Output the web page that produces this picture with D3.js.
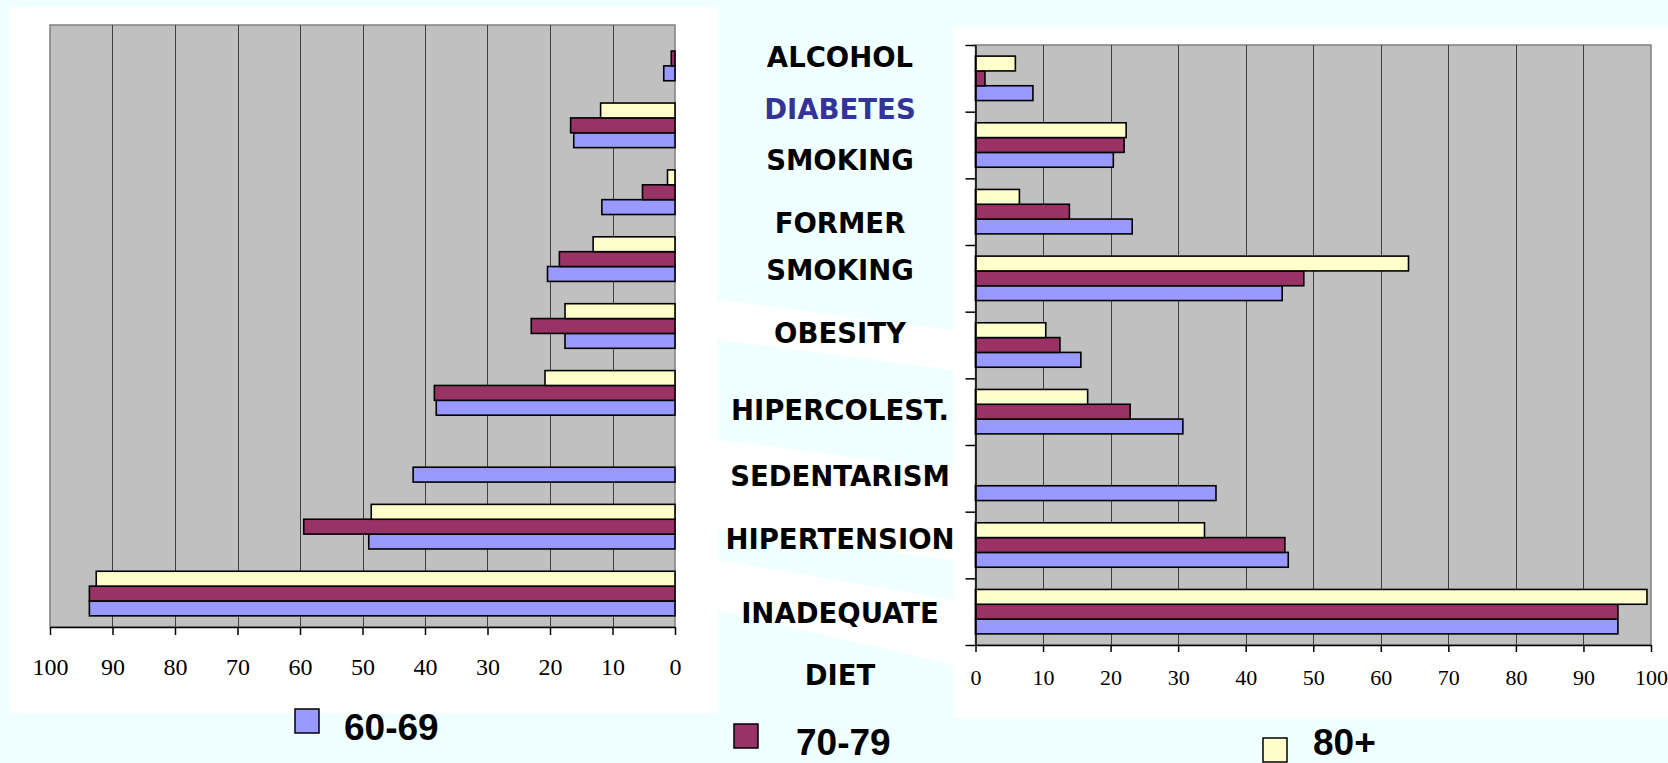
<!DOCTYPE html>
<html><head><meta charset="utf-8">
<script src="https://cdn.jsdelivr.net/npm/d3@7"></script>
<style>html,body{margin:0;padding:0;background:#F0FFFF;overflow:hidden}
.tick text{font-family:"Liberation Serif","Times New Roman",serif !important;}</style>
</head><body>
<svg id="c" width="1668" height="763"></svg>
<script>
// ---- data ----
const categories = ["ALCOHOL","DIABETES","SMOKING","FORMER SMOKING","OBESITY","HIPERCOLEST.","SEDENTARISM","HIPERTENSION","INADEQUATE DIET"];
const seriesNames = ["60-69","70-79","80+"];
// left (mirrored) chart
const left6069 = [1.8, 16.2, 11.7, 20.4, 17.6, 38.2, 41.9, 49.0, 93.7];
const left7079 = [0.6, 16.7, 5.2, 18.5, 23.0, 38.5, 0, 59.4, 93.7];
const left80   = [0, 11.9, 1.2, 13.1, 17.6, 20.8, 0, 48.6, 92.6];
// right chart
const right6069 = [8.5, 20.4, 23.2, 45.4, 15.6, 30.7, 35.6, 46.3, 95.1];
const right7079 = [1.4, 22.0, 13.9, 48.6, 12.5, 22.9, 0, 45.8, 95.1];
const right80   = [5.9, 22.3, 6.5, 64.1, 10.4, 16.6, 0, 33.9, 99.4];
const tickValues = [0,10,20,30,40,50,60,70,80,90,100];
// label text box lines (category label, split into lines)
const labelLines = [["ALCOHOL"],["DIABETES"],["SMOKING"],["FORMER","SMOKING"],["OBESITY"],["HIPERCOLEST."],["SEDENTARISM"],["HIPERTENSION"],["INADEQUATE","DIET"]];

// ---- styles / layout ----
const colors = {"60-69":"#9999FF","70-79":"#993366","80+":"#FFFFCC"};
const svg = d3.select("#c");

// background decoration (slide background)
svg.append("rect").attr("width",1668).attr("height",763).attr("fill","#F0FFFF");
svg.append("rect").attr("x",10).attr("y",7).attr("width",708).attr("height",706).attr("fill","#FFFFFF");
svg.append("rect").attr("x",953).attr("y",28).attr("width",715).attr("height",690).attr("fill","#FFFFFF");
const deco = [
  [[120,713],[718,713],[718,735],[700,763],[156,763]],
  [[718,300],[953,330],[953,370],[718,340]],
  [[718,440],[953,470],[953,560],[718,530]],
  [[718,560],[953,600],[953,665],[718,610]],
  [[718,713],[953,718],[953,763],[780,763]]
];
svg.selectAll("polygon.deco").data(deco).join("polygon")
  .attr("points", d => d.map(p => p.join(",")).join(" "))
  .attr("fill", (d,i) => i === 0 || i === 4 ? "#F0FFFF" : "#FFFFFF");

function drawChart(opts) {
  const {x0, x1, y0, y1, domain, data, tickLen, fontSize, labelDy, leftAxis} = opts;
  const x = d3.scaleLinear().domain(domain).range([x0, x1]);
  const y = d3.scaleBand().domain(categories).range([y0, y1]).padding(0);
  const yi = d3.scaleBand().domain(["80+","70-79","60-69"]).range([0, y.bandwidth()]).paddingInner(0).paddingOuter(0.75);
  const g = svg.append("g");
  g.append("rect").attr("x", Math.min(x0,x1)).attr("y", y0)
    .attr("width", Math.abs(x1-x0)).attr("height", y1-y0)
    .attr("fill","#C0C0C0").attr("stroke","#808080").attr("stroke-width",1.5);
  // gridlines
  g.selectAll("line.grid").data(tickValues.filter(v => v > 0 && v < 100)).join("line")
    .attr("x1", d => Math.round(x(d))+0.5).attr("x2", d => Math.round(x(d))+0.5)
    .attr("y1", y0).attr("y2", y1).attr("stroke","#404040").attr("stroke-width",1);
  // bars
  const rows = [];
  categories.forEach((c,i) => {
    seriesNames.forEach(s => rows.push({c, s, v: data[s][i]}));
  });
  g.selectAll("rect.bar").data(rows.filter(r => r.v > 0)).join("rect")
    .attr("x", d => Math.min(x(0), x(d.v)))
    .attr("y", d => y(d.c) + yi(d.s))
    .attr("width", d => Math.abs(x(d.v) - x(0)))
    .attr("height", yi.bandwidth())
    .attr("fill", d => colors[d.s]).attr("stroke","#000").attr("stroke-width",1.6);
  // x axis
  const ax = g.append("g").attr("transform",`translate(0,${y1})`)
    .call(d3.axisBottom(x).tickValues(tickValues).tickSize(tickLen).tickSizeOuter(0).tickPadding(0));
  ax.attr("font-family","Liberation Serif, serif").attr("font-size",fontSize);
  ax.select(".domain").attr("stroke","#000").attr("stroke-width",1.5);
  ax.selectAll(".tick line").attr("stroke","#000").attr("stroke-width",1.5);
  ax.selectAll(".tick text")
    .style("font-family","'Liberation Serif', serif").style("font-size",fontSize+"px")
    .attr("fill","#000").attr("dy",null).attr("y",labelDy);
  if (leftAxis) {
    const yb = d3.scaleLinear().domain([0, categories.length]).range([y0, y1]);
    const ay = g.append("g").attr("transform",`translate(${x0},0)`)
      .call(d3.axisLeft(yb).ticks(categories.length).tickFormat("").tickSize(10).tickSizeOuter(0));
    ay.select(".domain").attr("stroke","#000").attr("stroke-width",1.5);
    ay.selectAll(".tick line").attr("stroke","#000").attr("stroke-width",1.5);
  }
  return ax;
}

drawChart({x0:50, x1:675, y0:25, y1:627, domain:[100,0],
  data:{"60-69":left6069,"70-79":left7079,"80+":left80}, tickLen:8, fontSize:24, labelDy:48, leftAxis:false});
drawChart({x0:975.5, x1:1651, y0:45, y1:645, domain:[0,100],
  data:{"60-69":right6069,"70-79":right7079,"80+":right80}, tickLen:7, fontSize:22, labelDy:40, leftAxis:true});

// category labels text box (separate column, as in the slide)
const lineY = [57, 109, 160, 223, 270, 333, 410, 476, 539, 613, 675];
const flat = [];
labelLines.forEach((lines, ci) => lines.forEach(t => flat.push({t, ci})));
svg.selectAll("text.cat").data(flat).join("text")
  .attr("x", 840).attr("y", (d,i) => lineY[i] + 10)
  .attr("text-anchor","middle")
  .attr("font-family","'DejaVu Sans',Verdana,sans-serif").attr("font-weight","bold")
  .attr("font-size",27.5)
  .attr("fill", d => d.ci === 1 ? "#333399" : "#000")
  .text(d => d.t);

// legend
const legendPos = [{sx:295, sy:709, tx:344, ty:740},{sx:734, sy:724, tx:796, ty:755},{sx:1263, sy:738, tx:1313, ty:755}];
const lg = svg.selectAll("g.leg").data(seriesNames).join("g");
lg.append("rect").attr("x",(d,i)=>legendPos[i].sx).attr("y",(d,i)=>legendPos[i].sy)
  .attr("width",24).attr("height",24).attr("fill",d=>colors[d]).attr("stroke","#000").attr("stroke-width",1.5);
lg.append("text").attr("x",(d,i)=>legendPos[i].tx).attr("y",(d,i)=>legendPos[i].ty)
  .attr("font-family","'Liberation Sans',Arial,sans-serif").attr("font-weight","bold")
  .attr("font-size",37).attr("fill","#000").text(d=>d);
</script>
</body></html>
